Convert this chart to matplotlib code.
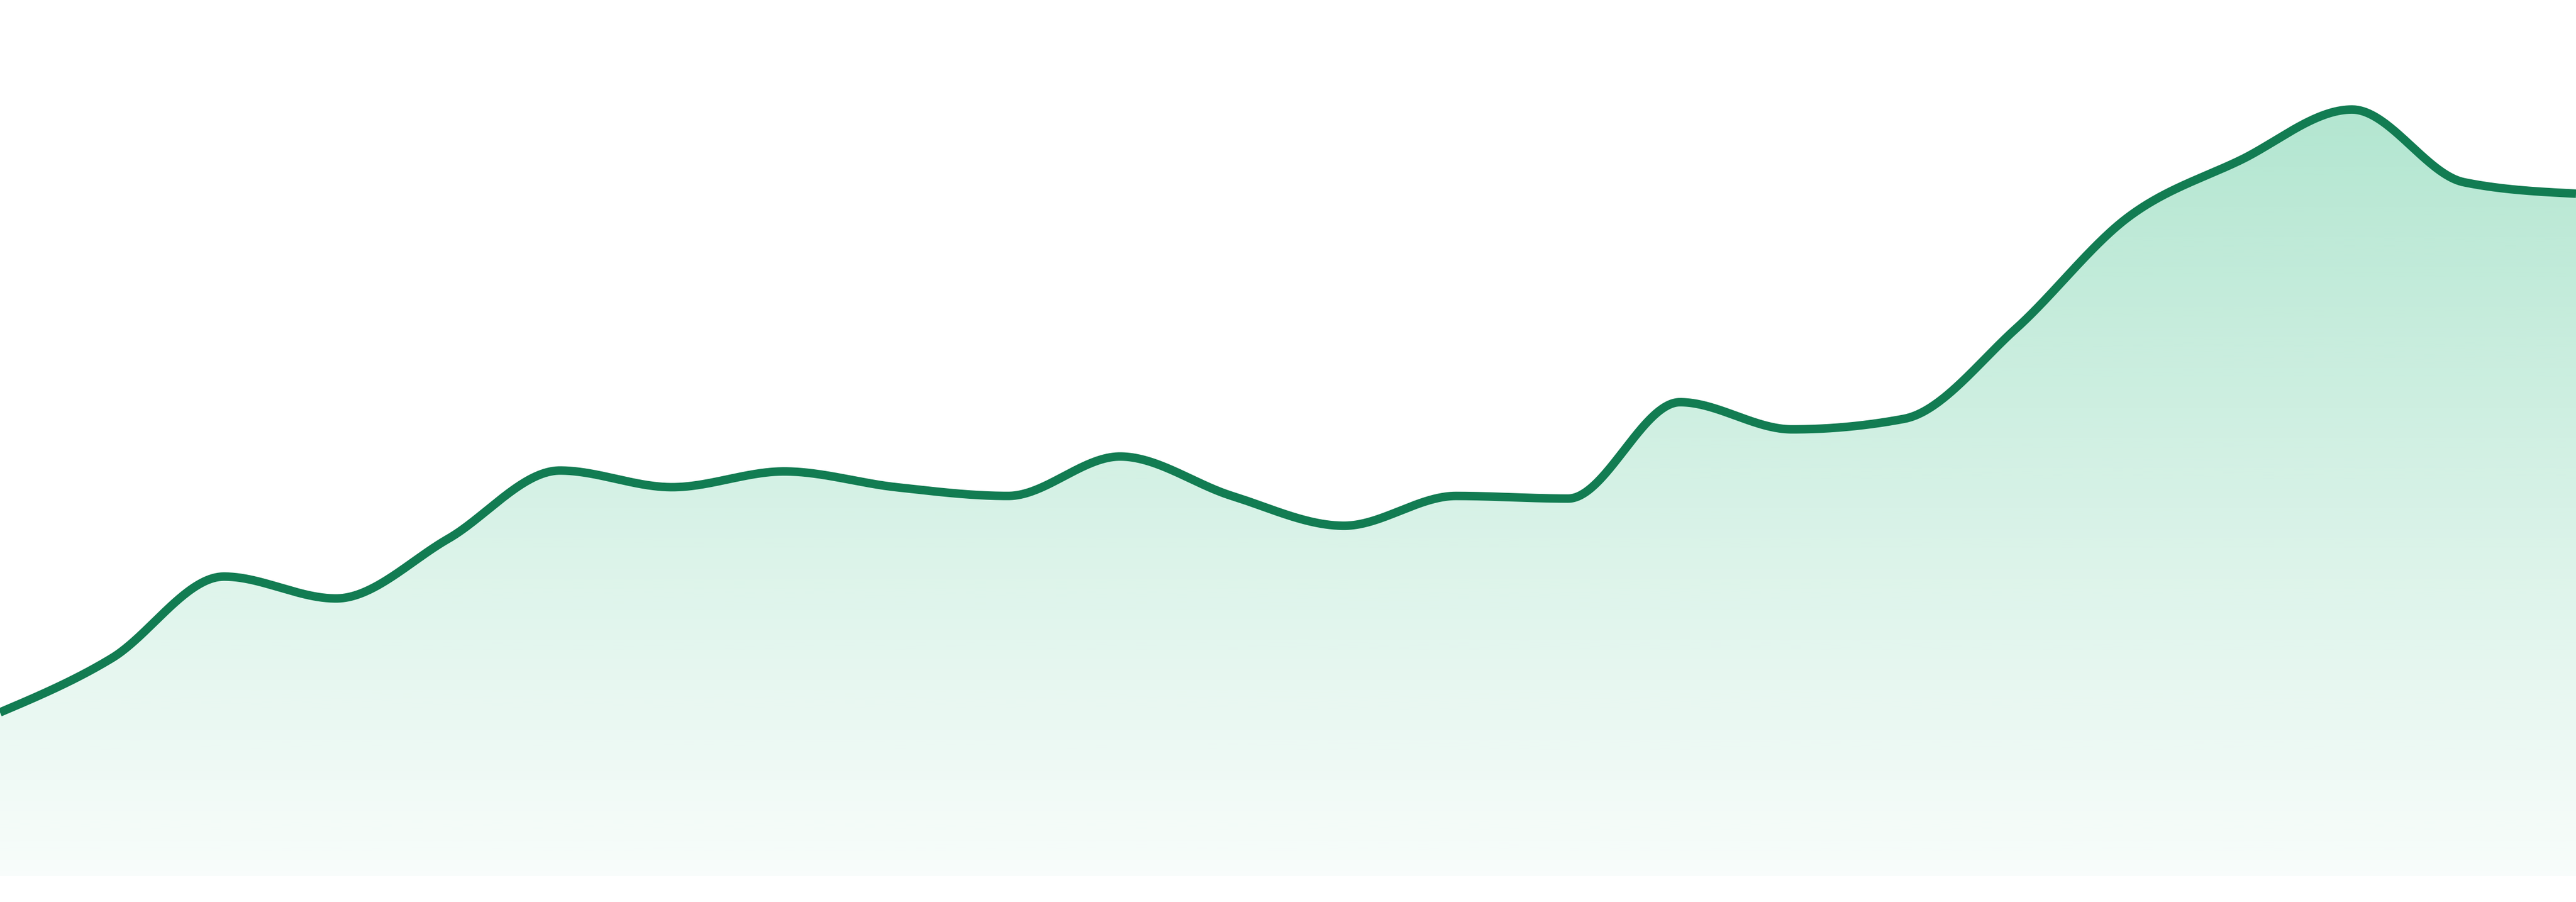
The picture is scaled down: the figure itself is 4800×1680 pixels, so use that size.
"""
plot.py — smooth single-series area chart (green line over a fading fill)

The curve is drawn the same way d3's curveMonotoneX does it: a cubic
Hermite spline whose tangents are limited so it never overshoots the
data. That is what gives the flat tops at the peaks and the small
kinks at the points where the slope changes.
"""

import numpy as np
import matplotlib
matplotlib.use("Agg")
import matplotlib.pyplot as plt
from matplotlib.patches import Polygon


# --- Data (arbitrary units, baseline = 0) ---
periods = list(range(24))
values = [18.7, 24.9, 34.2, 31.7, 38.5, 46.3, 44.4, 46.2,
          44.4, 43.4, 47.9, 43.4, 40.0, 43.4, 43.1, 54.1,
          51.0, 52.2, 62.5, 75.2, 81.7, 87.5, 79.2, 77.9]

y_top = 100.0          # value at the very top of the axes

LINE_COLOR = "#127c52"
FILL_RGB = (22 / 255, 179 / 255, 113 / 255)
FILL_ALPHA_TOP = 0.37
FILL_ALPHA_BOTTOM = 0.03


def monotone_x(x, y, samples_per_segment=80):
    """Sample a monotone cubic (Steffen / d3 curveMonotoneX) through x, y."""
    x = np.asarray(x, dtype=float)
    y = np.asarray(y, dtype=float)
    n = len(x)
    h = np.diff(x)
    s = np.diff(y) / h

    # tangents at interior points
    t = np.zeros(n)
    for i in range(1, n - 1):
        p = (s[i - 1] * h[i] + s[i] * h[i - 1]) / (h[i - 1] + h[i])
        t[i] = (np.sign(s[i - 1]) + np.sign(s[i])) * min(
            abs(s[i - 1]), abs(s[i]), 0.5 * abs(p))

    # end tangents (d3 slope2)
    t[0] = (3 * s[0] - t[1]) / 2
    t[-1] = (3 * s[-1] - t[-2]) / 2

    xs, ys = [], []
    for i in range(n - 1):
        u = np.linspace(0, 1, samples_per_segment, endpoint=(i == n - 2))
        h00 = 2 * u**3 - 3 * u**2 + 1
        h10 = u**3 - 2 * u**2 + u
        h01 = -2 * u**3 + 3 * u**2
        h11 = u**3 - u**2
        xs.append(x[i] + u * h[i])
        ys.append(h00 * y[i] + h10 * h[i] * t[i]
                  + h01 * y[i + 1] + h11 * h[i] * t[i + 1])
    return np.concatenate(xs), np.concatenate(ys)


# ── Figure: 4800 x 1680 px, plot spans the full width ──────────────────────
fig = plt.figure(figsize=(16, 5.6), dpi=300)
fig.patch.set_facecolor("white")

# bottom of the fill sits 48 px above the lower edge of the image
ax = fig.add_axes([0, 48 / 1680, 1, 1632 / 1680])
ax.set_xlim(periods[0], periods[-1])
ax.set_ylim(0, y_top)
ax.axis("off")

cx, cy = monotone_x(periods, values)

# --- Gradient fill, clipped to the area under the curve ---
grad = np.zeros((256, 1, 4))
alpha = np.linspace(FILL_ALPHA_TOP, FILL_ALPHA_BOTTOM, 256)
grad[:, 0, 0] = FILL_RGB[0]
grad[:, 0, 1] = FILL_RGB[1]
grad[:, 0, 2] = FILL_RGB[2]
grad[:, 0, 3] = alpha

img = ax.imshow(grad, aspect="auto", interpolation="bilinear",
                extent=[periods[0], periods[-1], 0, y_top], origin="upper",
                zorder=1)

area = Polygon(np.column_stack([np.r_[cx, cx[-1], cx[0]],
                                np.r_[cy, 0, 0]]),
               closed=True, facecolor="none", edgecolor="none")
ax.add_patch(area)
img.set_clip_path(area)

# --- The line itself ---
ax.plot(cx, cy, color=LINE_COLOR, linewidth=3.8,
        solid_capstyle="butt", solid_joinstyle="round", zorder=3)

fig.savefig("out.png", dpi=300, facecolor="white")
